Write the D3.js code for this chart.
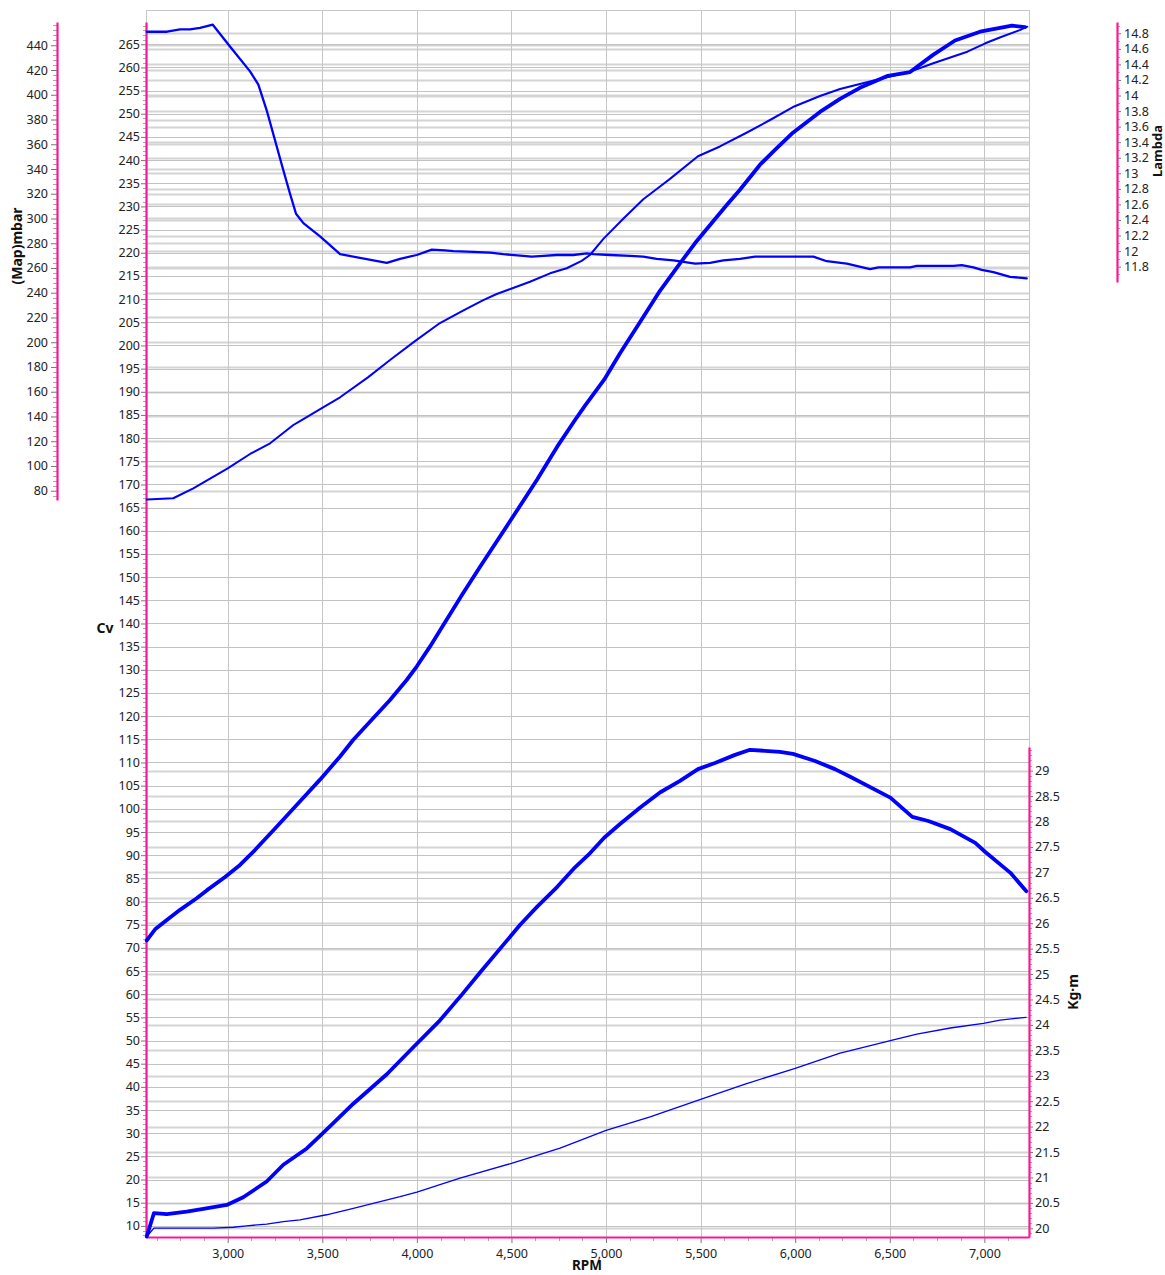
<!DOCTYPE html>
<html>
<head>
<meta charset="utf-8">
<script src="https://cdn.jsdelivr.net/npm/d3@7"></script>
<style>
  body { margin: 0; background: #fff; }
  svg text { font-family: "Noto Sans", sans-serif; }
</style>
</head>
<body>
<div id="chart"></div>
<script>
// Dyno sheet - Cv, Kg·m, Map and Lambda against RPM

// tick values
const xTicks = [3000, 3500, 4000, 4500, 5000, 5500, 6000, 6500, 7000];
const cvTicks = d3.range(10, 266, 5);
const mapTicks = d3.range(80, 441, 20);
const lambdaTicks = d3.range(118, 149, 2).map(v => v / 10);
const kgmTicks = d3.range(40, 59).map(v => v / 2);

// power (Cv)
const cvRpm = [2572, 2616, 2678, 2748, 2836, 2889, 2986, 3065, 3144, 3249, 3328, 3407, 3488, 3594, 3664, 3770,
  3858, 3946, 3999, 4069, 4122, 4239, 4335, 4493, 4635, 4741, 4836, 4889, 4990, 5074, 5179, 5285, 5391, 5471,
  5550, 5638, 5708, 5814, 5893, 5988, 6131, 6237, 6342, 6490, 6607, 6729, 6845, 6977, 7146, 7215];
const cvVal = [71.6, 74.0, 76.0, 78.2, 80.7, 82.4, 85.3, 87.9, 91.1, 95.7, 99.2, 102.7, 106.3, 111.3, 114.9, 119.6,
  123.5, 127.8, 130.7, 135.0, 138.5, 146.2, 152.3, 162.1, 171.0, 178.1, 183.9, 187.0, 192.6, 198.3, 205.0, 211.8, 217.7, 222.1,
  226.0, 230.3, 233.6, 239.0, 242.2, 245.9, 250.4, 253.2, 255.6, 258.2, 259.0, 262.7, 265.8, 267.7, 269.0, 268.7];

// torque (Kg·m)
const torqueRpm = [2572, 2610, 2678, 2783, 2871, 2995, 3082, 3206, 3294, 3418, 3488, 3558, 3664, 3841, 3981, 4122,
  4239, 4334, 4440, 4546, 4635, 4741, 4836, 4916, 4990, 5074, 5179, 5285, 5391, 5486, 5576, 5682, 5761, 5840,
  5919, 5988, 6105, 6210, 6291, 6503, 6619, 6704, 6820, 6952, 7005, 7138, 7222];
const torqueVal = [19.84, 20.30, 20.28, 20.33, 20.38, 20.46, 20.61, 20.92, 21.25, 21.57, 21.82, 22.07, 22.45, 23.03, 23.56, 24.09,
  24.60, 25.03, 25.50, 25.97, 26.32, 26.71, 27.10, 27.38, 27.68, 27.95, 28.27, 28.57, 28.80, 29.03, 29.15, 29.31, 29.41, 29.39,
  29.37, 29.33, 29.19, 29.03, 28.88, 28.47, 28.09, 28.01, 27.85, 27.58, 27.40, 26.99, 26.63];

// manifold pressure (mbar)
const mapRpm = [2572, 2712, 2818, 3000, 3118, 3224, 3347, 3382, 3493, 3594, 3743, 3858, 3990, 4122, 4239, 4351,
  4422, 4598, 4704, 4792, 4871, 4915, 4986, 5091, 5197, 5268, 5338, 5486, 5602, 5740, 5867, 5988, 6131, 6237,
  6342, 6490, 6608, 6730, 6910, 7005, 7085, 7190, 7227];
const mapVal = [73.0, 73.9, 81.9, 98.1, 109.7, 118.3, 133.1, 136.3, 146.4, 155.5, 171.8, 185.6, 200.9, 215.5, 225.2, 234.1,
  239.0, 248.9, 255.7, 259.8, 265.7, 270.5, 283.5, 299.8, 315.6, 323.8, 332.0, 350.3, 358.2, 369.1, 379.6, 390.1, 399.0, 404.7,
  408.7, 414.4, 418.7, 425.5, 434.8, 441.6, 446.5, 452.4, 455.0];

// lambda (AFR)
const lambdaRpm = [2572, 2679, 2748, 2801, 2854, 2921, 3012, 3118, 3162, 3206, 3294, 3329, 3361, 3400, 3488, 3594,
  3841, 3911, 3999, 4079, 4149, 4193, 4298, 4387, 4457, 4563, 4607, 4669, 4739, 4827, 4898, 4933, 5021, 5127,
  5197, 5268, 5356, 5471, 5550, 5620, 5708, 5788, 5990, 6096, 6167, 6273, 6396, 6440, 6607, 6643, 6836, 6881,
  6942, 6986, 7048, 7136, 7224];
const lambdaVal = [14.82, 14.82, 14.85, 14.85, 14.87, 14.91, 14.63, 14.31, 14.14, 13.81, 13.04, 12.74, 12.48, 12.36, 12.19, 11.96,
  11.85, 11.90, 11.95, 12.02, 12.01, 12.00, 11.99, 11.98, 11.96, 11.94, 11.93, 11.94, 11.95, 11.95, 11.97, 11.96, 11.95, 11.94,
  11.93, 11.90, 11.88, 11.84, 11.85, 11.88, 11.90, 11.93, 11.93, 11.93, 11.87, 11.84, 11.77, 11.79, 11.79, 11.81, 11.81, 11.82,
  11.79, 11.76, 11.73, 11.67, 11.65];

// loss power (Cv)
const lossRpm = [2572, 2610, 2924, 3030, 3100, 3206, 3294, 3382, 3523, 3664, 3911, 4000, 4228, 4500, 4757, 5000,
  5233, 5500, 5735, 6000, 6237, 6291, 6503, 6643, 6820, 6995, 7083, 7220];
const lossVal = [7.7, 9.5, 9.5, 9.7, 10.0, 10.4, 10.9, 11.3, 12.4, 13.8, 16.3, 17.3, 20.3, 23.5, 26.8, 30.6,
  33.5, 37.3, 40.6, 44.0, 47.3, 47.8, 50.0, 51.4, 52.7, 53.7, 54.4, 55.0];

const width = 1165, height = 1275;
const plot = { left: 146, right: 1029, top: 10, bottom: 1237 };
const pink = "#ff1493", blue = "#0000ff";

const svg = d3.select("#chart").append("svg")
  .attr("width", width)
  .attr("height", height);

// scales
const x = d3.scaleLinear().domain([2568, 7236]).range([plot.left, plot.right]);
const yCv = d3.scaleLinear().domain([7.6, 269.8]).range([plot.bottom, 22]);
const yMap = d3.scaleLinear().domain([72.5, 458.8]).range([500, 22]);
const yLambda = d3.scaleLinear().domain([11.603, 14.945]).range([282, 22]);
const yKgm = d3.scaleLinear().domain([19.829, 29.465]).range([plot.bottom, 747]);

// grid
const grid = svg.append("g");
function hGrid(ticks, scale, color, w) {
  grid.append("g").selectAll("line")
    .data(ticks)
    .join("line")
    .attr("x1", plot.left).attr("x2", plot.right)
    .attr("y1", d => Math.round(scale(d)) + 0.5)
    .attr("y2", d => Math.round(scale(d)) + 0.5)
    .attr("stroke", color)
    .attr("stroke-width", w);
}
hGrid(mapTicks, yMap, "#d4d4d4", 2);
hGrid(lambdaTicks, yLambda, "#d4d4d4", 2);
hGrid(kgmTicks, yKgm, "#d4d4d4", 2);
hGrid(cvTicks, yCv, "#c2c2c2", 1);

grid.append("g").selectAll("line")
  .data(xTicks)
  .join("line")
  .attr("x1", d => Math.round(x(d)) + 0.5).attr("x2", d => Math.round(x(d)) + 0.5)
  .attr("y1", plot.top).attr("y2", plot.bottom)
  .attr("stroke", "#c6c6c6");

grid.append("rect")
  .attr("x", plot.left + 0.5).attr("y", plot.top + 0.5)
  .attr("width", plot.right - plot.left).attr("height", plot.bottom - plot.top)
  .attr("fill", "none")
  .attr("stroke", "#c6c6c6");

// minor ticks
function minorY(vals, scale, x1, x2) {
  svg.append("g").selectAll("line")
    .data(vals)
    .join("line")
    .attr("x1", x1).attr("x2", x2)
    .attr("y1", d => Math.round(scale(d)) + 0.5)
    .attr("y2", d => Math.round(scale(d)) + 0.5)
    .attr("stroke", "#aaa");
}
minorY(d3.range(8, 270).filter(v => v % 5 !== 0), yCv, 143, 146);
minorY(d3.range(76, 458, 4).filter(v => v % 20 !== 0), yMap, 53, 57);
minorY(d3.range(117, 150).filter(v => v % 2 !== 0).map(v => v / 10), yLambda, 1117, 1120);
minorY(d3.range(199, 295).filter(v => v % 5 !== 0).map(v => v / 10), yKgm, 1029, 1032);

svg.append("g").selectAll("line")
  .data(d3.range(2625, 7236, 125).filter(v => v % 500 !== 0))
  .join("line")
  .attr("x1", d => Math.round(x(d)) + 0.5).attr("x2", d => Math.round(x(d)) + 0.5)
  .attr("y1", plot.bottom).attr("y2", plot.bottom + 4)
  .attr("stroke", "#aaa");

// axes
const fmtDec = d => String(+d.toFixed(1));
function styleAxis(g) {
  g.attr("font-family", null).attr("font-size", null);
  g.select(".domain").attr("stroke", pink).attr("stroke-width", 2.2);
  g.selectAll(".tick line").attr("stroke", "#777");
  g.selectAll(".tick text").attr("fill", "#222").style("font-size", "12.5px");
}

svg.append("g")
  .attr("transform", `translate(${plot.left},0)`)
  .call(d3.axisLeft(yCv).tickValues(cvTicks).tickFormat(d3.format("d")).tickSize(5).tickPadding(1).tickSizeOuter(0))
  .call(styleAxis);

svg.append("g")
  .attr("transform", "translate(57,0)")
  .call(d3.axisLeft(yMap).tickValues(mapTicks).tickFormat(d3.format("d")).tickSize(6).tickPadding(3).tickSizeOuter(0))
  .call(styleAxis);

svg.append("g")
  .attr("transform", "translate(1117,0)")
  .call(d3.axisRight(yLambda).tickValues(lambdaTicks).tickFormat(fmtDec).tickSize(4).tickPadding(3).tickSizeOuter(0))
  .call(styleAxis);

svg.append("g")
  .attr("transform", `translate(${plot.right},0)`)
  .call(d3.axisRight(yKgm).tickValues(kgmTicks).tickFormat(fmtDec).tickSize(4).tickPadding(2).tickSizeOuter(0))
  .call(styleAxis);

svg.append("g")
  .attr("transform", `translate(0,${plot.bottom})`)
  .call(d3.axisBottom(x).tickValues(xTicks).tickFormat(d3.format(",")).tickSize(6).tickPadding(6).tickSizeOuter(0))
  .call(styleAxis);

// axis titles
const title = (tx, ty, rot, txt, size) => svg.append("text")
  .attr("transform", `translate(${tx},${ty}) rotate(${rot})`)
  .attr("text-anchor", "middle")
  .attr("font-weight", "bold")
  .style("font-size", size || "14px")
  .attr("fill", "#111")
  .text(txt);

title(22, 246, -90, "(Map)mbar");
title(105, 633, 0, "Cv");
title(1078, 992, -90, "Kg·m");
title(1162, 151, -90, "Lambda", "13px");
title(587, 1270, 0, "RPM", "13.5px");

// curves
const series = [
  { rpm: lossRpm, val: lossVal, y: yCv, w: 1.3 },
  { rpm: mapRpm, val: mapVal, y: yMap, w: 2 },
  { rpm: lambdaRpm, val: lambdaVal, y: yLambda, w: 2.3 },
  { rpm: torqueRpm, val: torqueVal, y: yKgm, w: 3.8 },
  { rpm: cvRpm, val: cvVal, y: yCv, w: 3.8 }
];

series.forEach(s => {
  const line = d3.line()
    .x((d, i) => x(s.rpm[i]))
    .y(d => s.y(d));
  svg.append("path")
    .datum(s.val)
    .attr("d", line)
    .attr("fill", "none")
    .attr("stroke", blue)
    .attr("stroke-width", s.w)
    .attr("stroke-linejoin", "round")
    .attr("stroke-linecap", "round");
});
</script>
</body>
</html>
